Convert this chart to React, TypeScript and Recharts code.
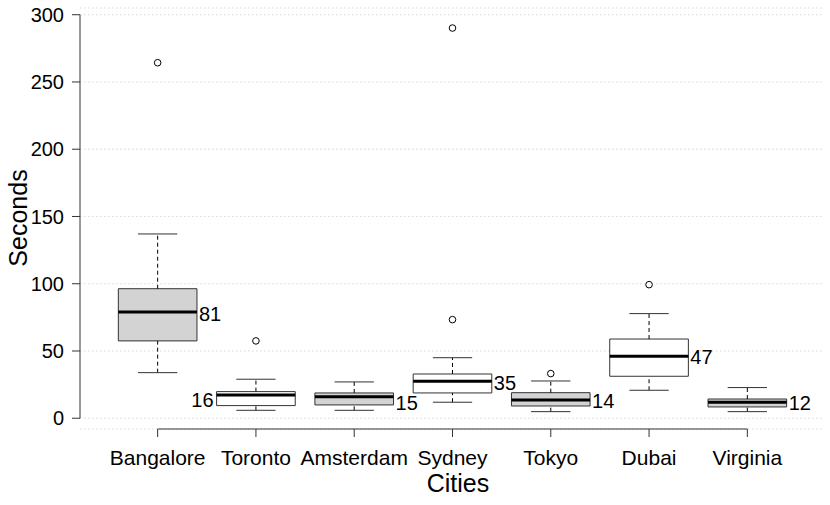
import React from 'react';
import {
  ComposedChart,
  XAxis,
  YAxis,
  CartesianGrid,
  ReferenceArea,
  ReferenceLine,
  Scatter,
} from 'recharts';

// box statistics, one entry per city
const cities = ['Bangalore', 'Toronto', 'Amsterdam', 'Sydney', 'Tokyo', 'Dubai', 'Virginia'];
const lowerWhisker = [33.9, 5.9, 5.9, 11.9, 4.9, 20.8, 4.9];
const q1 = [57.5, 9.4, 9.9, 18.8, 9.1, 31.2, 8.4];
const median = [79, 17.3, 16, 27.5, 13.6, 46.1, 11.9];
const q3 = [96.3, 19.8, 18.8, 32.9, 19, 58.9, 14.3];
const upperWhisker = [137, 29, 27, 45, 27.7, 77.8, 22.8];
const outliers = [[264.3], [57.5], [], [290.1, 73.3], [33.2], [99.3], []];
const meanLabels = ['81', '16', '15', '35', '14', '47', '12'];
const labelY = [77.5, 13.8, 11.1, 26.5, 12.9, 45.8, 11.6];
const labelSide = ['right', 'left', 'right', 'right', 'right', 'right', 'right'];
const boxFill = ['#d3d3d3', '#ffffff', '#d3d3d3', '#ffffff', '#d3d3d3', '#ffffff', '#d3d3d3'];
const yTicks = [0, 50, 100, 150, 200, 250, 300];
const xTicks = [1, 2, 3, 4, 5, 6, 7];

const X_DOMAIN: [number, number] = [0.21, 7.78];
const Y_DOMAIN: [number, number] = [-8, 305];
const HALF_BOX = 0.4;
const HALF_CAP = 0.2;
const FONT = '"Liberation Sans", Arial, sans-serif';
const INK = '#333333';

const outlierPoints = outliers.flatMap((vals, i) => vals.map((y) => ({ x: i + 1, y })));
const labelPoints = meanLabels.map((text, i) => ({
  x: i + 1 + (labelSide[i] === 'left' ? -HALF_BOX : HALF_BOX),
  y: labelY[i],
  text,
  side: labelSide[i],
}));

const OutlierDot = (props: any) => (
  <circle cx={props.cx} cy={props.cy} r={3.3} fill="#ffffff" stroke="#000000" strokeWidth={1} />
);

const MeanLabel = (props: any) => {
  const left = props.payload.side === 'left';
  return (
    <text
      x={props.cx + (left ? -3 : 2)}
      y={props.cy}
      textAnchor={left ? 'end' : 'start'}
      dominantBaseline="central"
      fontSize={20}
      fontFamily={FONT}
      fill="#000000"
    >
      {props.payload.text}
    </text>
  );
};

export default function App() {
  return (
    <div style={{ position: 'absolute', left: 0, top: 0, width: 830, height: 505, background: '#fff', fontFamily: FONT }}>
      <ComposedChart width={830} height={505} margin={{ top: 8, right: 6, bottom: 0, left: 0 }}>
        <CartesianGrid vertical={false} stroke="#d9d9d9" strokeDasharray="1.5 2.5" />
        <XAxis
          dataKey="x"
          type="number"
          domain={X_DOMAIN}
          allowDataOverflow
          ticks={xTicks}
          interval={0}
          tickFormatter={(v: number) => cities[v - 1]}
          axisLine={false}
          tickLine={{ stroke: INK }}
          tickSize={8}
          tickMargin={13}
          height={76}
          tick={{ fill: '#000000', fontSize: 21, fontFamily: FONT }}
        />
        <YAxis
          dataKey="y"
          type="number"
          domain={Y_DOMAIN}
          allowDataOverflow
          ticks={yTicks}
          interval={0}
          axisLine={false}
          tickLine={{ stroke: INK }}
          tickSize={8}
          tickMargin={8}
          width={80}
          tick={{ fill: '#000000', fontSize: 20, fontFamily: FONT }}
        />

        {/* axis lines span first to last tick only, as in base R */}
        <ReferenceLine
          segment={[{ x: X_DOMAIN[0], y: 0 }, { x: X_DOMAIN[0], y: 300 }]}
          stroke={INK}
          ifOverflow="visible"
        />
        <ReferenceLine
          segment={[{ x: 1, y: Y_DOMAIN[0] }, { x: 7, y: Y_DOMAIN[0] }]}
          stroke={INK}
          ifOverflow="visible"
        />

        {/* whiskers */}
        {cities.map((c, i) => (
          <ReferenceLine
            key={`wu-${c}`}
            segment={[{ x: i + 1, y: q3[i] }, { x: i + 1, y: upperWhisker[i] }]}
            stroke="#000000"
            strokeDasharray="4 3"
          />
        ))}
        {cities.map((c, i) => (
          <ReferenceLine
            key={`wl-${c}`}
            segment={[{ x: i + 1, y: lowerWhisker[i] }, { x: i + 1, y: q1[i] }]}
            stroke="#000000"
            strokeDasharray="4 3"
          />
        ))}
        {cities.map((c, i) => (
          <ReferenceLine
            key={`cu-${c}`}
            segment={[{ x: i + 1 - HALF_CAP, y: upperWhisker[i] }, { x: i + 1 + HALF_CAP, y: upperWhisker[i] }]}
            stroke={INK}
          />
        ))}
        {cities.map((c, i) => (
          <ReferenceLine
            key={`cl-${c}`}
            segment={[{ x: i + 1 - HALF_CAP, y: lowerWhisker[i] }, { x: i + 1 + HALF_CAP, y: lowerWhisker[i] }]}
            stroke={INK}
          />
        ))}

        {/* boxes */}
        {cities.map((c, i) => (
          <ReferenceArea
            key={`box-${c}`}
            x1={i + 1 - HALF_BOX}
            x2={i + 1 + HALF_BOX}
            y1={q1[i]}
            y2={q3[i]}
            fill={boxFill[i]}
            fillOpacity={1}
            stroke={INK}
            strokeWidth={1}
          />
        ))}

        {/* medians */}
        {cities.map((c, i) => (
          <ReferenceLine
            key={`med-${c}`}
            segment={[{ x: i + 1 - HALF_BOX, y: median[i] }, { x: i + 1 + HALF_BOX, y: median[i] }]}
            stroke="#000000"
            strokeWidth={3}
          />
        ))}

        <Scatter data={outlierPoints} dataKey="y" shape={OutlierDot} isAnimationActive={false} />
        <Scatter data={labelPoints} dataKey="y" shape={MeanLabel} isAnimationActive={false} />
      </ComposedChart>

      <svg width={830} height={505} style={{ position: 'absolute', left: 0, top: 0, pointerEvents: 'none' }}>
        <text x={458} y={492} textAnchor="middle" fontSize={25} fontFamily={FONT} fill="#000000">
          Cities
        </text>
        <text
          x={26.5}
          y={218}
          transform="rotate(-90, 26.5, 218)"
          textAnchor="middle"
          fontSize={25}
          fontFamily={FONT}
          fill="#000000"
        >
          Seconds
        </text>
      </svg>
    </div>
  );
}
